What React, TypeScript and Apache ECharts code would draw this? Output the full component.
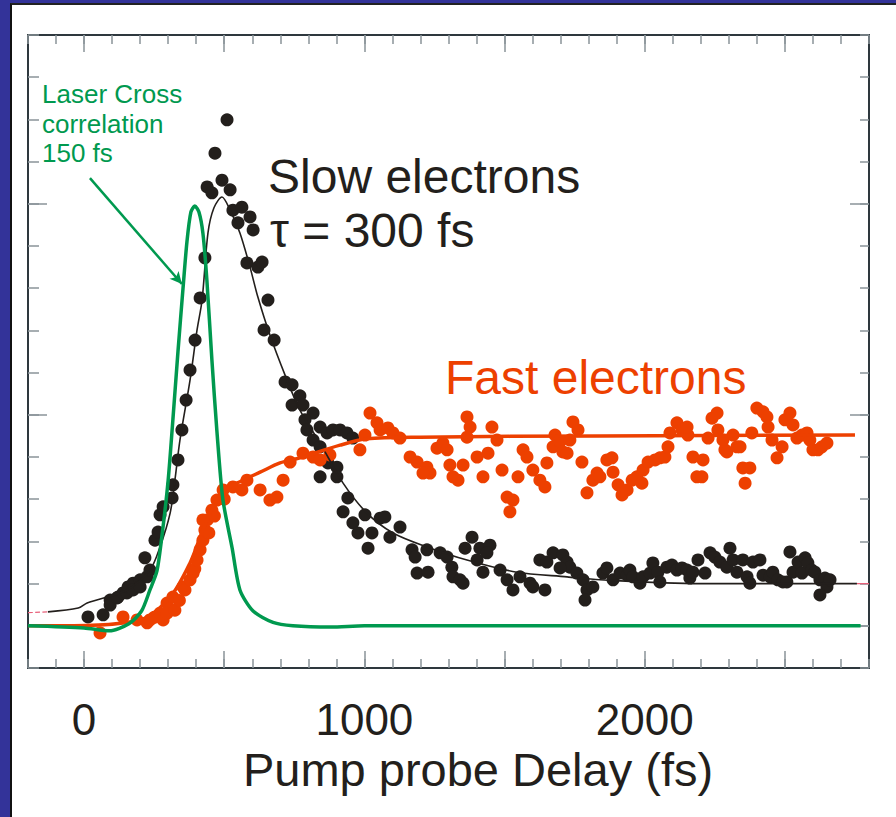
import React, { useEffect, useRef } from 'react';
import * as echarts from 'echarts';

// Axis ranges and ticks (fs on x, arbitrary units on y)
const xMin = -200;
const xMax = 2800;
const yMin = -1;
const yMax = 14;
const xTickLabels = [0, 1000, 2000];
const xMajorTicks = [0, 500, 1000, 1500, 2000, 2500];
const yMajorTicks = [0, 5, 10];

// Laser cross-correlation curve (green)
const laserCurve = [
  [-200, 0], [0, -0.05], [90, -0.12], [160, 0.05], [205, 0.35], [235, 0.85], [260, 1.3],
  [280, 2.25], [300, 3.45], [317, 4.9], [335, 6.5], [353, 8.0], [367, 9.1], [381, 9.8],
  [395, 9.95], [410, 9.8], [424, 9.3], [438, 8.2], [456, 6.3], [474, 4.6], [495, 3.0],
  [528, 1.85], [556, 0.85], [603, 0.35], [674, 0.08], [745, 0], [880, -0.03], [1000, 0], [2770, 0],
];

// Slow electrons fit (black line)
const slowFit = [
  [-129, 0.33], [-21, 0.42], [11, 0.54], [153, 0.85], [235, 1.32], [271, 1.87], [307, 2.67],
  [324, 3.45], [342, 4.4], [378, 5.82], [403, 7.01], [421, 7.72], [442, 9.31], [463, 9.9],
  [492, 10.16], [521, 9.85], [556, 9.31], [592, 8.5], [620, 7.79], [663, 6.89], [717, 5.94],
  [770, 5.11], [842, 4.33], [924, 3.38], [1009, 2.67], [1102, 2.2], [1223, 1.87], [1366, 1.56],
  [1544, 1.27], [1723, 1.16], [1840, 1.09], [2197, 1.0], [2757, 1.0],
];

// Faint pink ends of the slow fit
const slowFitTailLeft = [[-200, 0.31], [-129, 0.33]];
const slowFitTailRight = [[2757, 1.0], [2800, 1.0]];

// Fast electrons fit (orange line)
const fastFit = [
  [-200, 0], [-86, 0], [200, 0.14], [307, 0.68], [378, 1.49], [424, 2.27], [474, 2.98],
  [521, 3.29], [567, 3.45], [628, 3.64], [699, 3.86], [770, 3.98], [913, 4.28], [1009, 4.43],
  [1198, 4.47], [1840, 4.5], [2750, 4.52],
];

// Slow electrons measured points (black dots)
const slowPoints = [
  [14, 0.21], [68, 0.26], [93, 0.61], [93, 0.49], [118, 0.66], [121, 0.68], [139, 0.78],
  [153, 0.78], [157, 0.92], [175, 1.01], [175, 0.85], [200, 1.09], [200, 0.92], [225, 1.16],
  [217, 1.61], [235, 1.32], [253, 2.03], [264, 2.22], [271, 2.63], [282, 2.82], [314, 3.03],
  [317, 3.34], [335, 3.93], [349, 4.64], [364, 5.35], [378, 6.06], [396, 6.77], [414, 7.77],
  [431, 8.72], [510, 11.99], [467, 11.2], [492, 10.56], [439, 10.4], [456, 10.26], [521, 10.33],
  [531, 9.85], [563, 9.92], [549, 9.55], [592, 9.69], [603, 9.38], [581, 8.6], [620, 8.5],
  [635, 8.62], [656, 7.72], [642, 7.01], [678, 6.77], [717, 5.78], [742, 5.71], [770, 5.45],
  [742, 5.23], [781, 5.23], [817, 5.04], [788, 4.88], [795, 4.64], [842, 4.71], [867, 4.57],
  [888, 4.64], [913, 4.64], [938, 4.57], [959, 4.45], [817, 4.4], [842, 4.24], [870, 3.86],
  [902, 3.76], [842, 3.53], [902, 3.53], [941, 3.03], [924, 2.7], [959, 2.44], [1002, 2.63],
  [1056, 2.55], [1073, 2.58], [977, 2.2], [1027, 2.2], [1091, 2.1], [1127, 2.34], [1013, 1.84],
  [1170, 1.8], [1181, 1.63], [1223, 1.8], [1270, 1.73], [1295, 1.63], [1188, 1.25], [1227, 1.27],
  [1312, 1.39], [1316, 1.16], [1341, 1.09], [1352, 1.01], [1384, 2.1], [1359, 1.84], [1412, 1.84],
  [1448, 1.91], [1437, 1.73], [1402, 1.56], [1423, 1.27], [1484, 1.32], [1509, 1.09], [1530, 0.85],
  [1555, 1.16], [1591, 1.01], [1601, 0.92], [1644, 0.85], [1626, 1.56], [1651, 1.51], [1673, 1.73],
  [1708, 1.68], [1723, 1.51], [1733, 1.39], [1698, 1.37], [1758, 1.25], [1780, 1.09], [1794, 0.85],
  [1815, 0.92], [1787, 0.61], [1851, 1.25], [1865, 1.37], [1887, 1.09], [1912, 1.25], [1937, 1.2],
  [1947, 1.32], [1958, 1.16], [1983, 1.01], [1994, 1.16], [2019, 1.25], [2029, 1.49], [2047, 1.27],
  [2054, 1.04], [2079, 1.39], [2097, 1.44], [2115, 1.32], [2133, 1.37], [2151, 1.32], [2161, 1.13],
  [2172, 1.27], [2190, 1.56], [2215, 1.25], [2233, 1.73], [2250, 1.63], [2268, 1.51], [2293, 1.39],
  [2304, 1.84], [2315, 1.56], [2329, 1.27], [2350, 1.56], [2365, 1.16], [2375, 1.01], [2386, 1.51],
  [2411, 1.56], [2422, 1.2], [2447, 1.16], [2457, 1.27], [2475, 1.09], [2493, 1.04], [2507, 1.04],
  [2518, 1.75], [2529, 1.27], [2547, 1.51], [2561, 1.25], [2572, 1.61], [2582, 1.49], [2596, 1.32],
  [2607, 1.27], [2625, 1.09], [2643, 1.13], [2650, 0.92], [2625, 0.73], [2661, 1.09],
];

// Fast electrons measured points (orange dots)
const fastPoints = [
  [57, -0.17], [139, 0.21], [189, 0.14], [225, 0.07], [235, 0.14], [250, 0.2], [271, 0.3], [282, 0.14],
  [296, 0.54], [296, 0.3], [317, 0.68], [324, 0.37], [340, 0.6], [353, 0.92], [360, 0.85], [378, 1.09],
  [389, 1.25], [395, 1.35], [403, 1.56], [414, 1.8], [424, 2.03], [431, 2.27], [439, 2.51], [424, 2.51],
  [445, 2.2], [456, 2.74], [465, 2.6], [474, 2.98], [496, 3.22], [500, 3.0], [531, 3.29], [563, 3.22],
  [581, 3.45], [628, 3.22], [663, 2.98],
  [688, 3.05], [710, 3.45], [735, 3.88], [781, 4.09], [817, 4.0], [842, 3.93], [877, 4.05],
  [984, 4.17], [1002, 4.52], [1020, 5.04], [1045, 4.81], [1056, 4.64], [1084, 4.69], [1102, 4.57],
  [1127, 4.45], [1163, 4.0], [1188, 3.88], [1223, 3.76], [1234, 3.62], [1209, 3.62], [1259, 4.21],
  [1280, 4.33], [1295, 4.17], [1305, 3.81], [1316, 3.53], [1334, 3.45], [1352, 3.81], [1366, 4.95],
  [1377, 4.71], [1366, 4.47], [1402, 4.0], [1423, 3.53], [1441, 4.09], [1455, 4.71], [1473, 4.4],
  [1491, 3.69], [1509, 3.05], [1530, 2.98], [1519, 2.7], [1548, 3.53], [1566, 4.17], [1580, 4.0],
  [1601, 3.69], [1626, 3.45], [1644, 3.29], [1651, 3.86], [1673, 4.24], [1680, 4.52], [1698, 4.36],
  [1708, 4.12], [1723, 4.09], [1733, 4.4], [1744, 4.83], [1762, 4.64], [1776, 3.88], [1794, 3.15],
  [1815, 3.45], [1830, 3.62], [1840, 3.53], [1865, 3.93], [1883, 3.98], [1887, 3.64], [1905, 3.34],
  [1919, 3.1], [1937, 3.22], [1955, 3.45], [1972, 3.53], [1990, 3.38], [1994, 3.69], [2012, 3.88],
  [2037, 3.93], [2054, 3.98], [2072, 4.0], [2083, 4.24], [2090, 4.57], [2115, 4.81], [2133, 4.64],
  [2154, 4.52], [2151, 4.71], [2172, 4.0], [2208, 3.93], [2186, 3.53], [2204, 3.53], [2226, 4.45],
  [2240, 4.92], [2258, 5.04], [2261, 4.64], [2279, 4.4], [2286, 4.17], [2293, 4.12], [2315, 4.52],
  [2329, 4.24], [2340, 4.24], [2350, 3.74], [2375, 3.74], [2358, 3.38], [2382, 4.57], [2400, 5.16],
  [2422, 5.07], [2436, 4.95], [2440, 4.71], [2454, 4.4], [2472, 3.98], [2490, 4.24], [2500, 4.88],
  [2518, 5.04], [2529, 4.76], [2543, 4.45], [2561, 4.52], [2579, 4.57], [2589, 4.4], [2600, 4.17],
  [2618, 4.17], [2632, 4.24], [2650, 4.33],
];

// Annotation arrow (data coordinates)
const arrowFrom = [21, 10.61];
const arrowTo = [349, 8.1];

const BLACK = '#231f1c';
const ORANGE = '#ed4000';
const GREEN = '#00994f';
const AXIS_DARK = '#2e383e';
const TICK_GREY = '#8a9398';
const FONT = '"Liberation Sans", Arial, Helvetica, sans-serif';

export default function App() {
  const ref = useRef<HTMLDivElement>(null);

  useEffect(() => {
    if (!ref.current) return;
    const chart = echarts.init(ref.current, null, { renderer: 'svg' });

    const baseX = (extra: any) => ({
      type: 'value',
      min: xMin,
      max: xMax,
      splitLine: { show: false },
      axisLabel: { show: false },
      ...extra,
    });
    const baseY = (extra: any) => ({
      type: 'value',
      min: yMin,
      max: yMax,
      splitLine: { show: false },
      axisLabel: { show: false },
      ...extra,
    });
    const axisLine = { show: true, onZero: false, lineStyle: { color: AXIS_DARK, width: 2 } };
    const noLine = { show: false, onZero: false };
    const minorTick = { show: true, inside: true, length: 9, lineStyle: { color: TICK_GREY, width: 1.5 } };
    const majorTickX = { show: true, inside: true, length: 17, customValues: xMajorTicks, lineStyle: { color: TICK_GREY, width: 1.5 } };
    const majorTickY = { show: true, inside: true, length: 19, customValues: yMajorTicks, lineStyle: { color: TICK_GREY, width: 1.5 } };

    const txt = (text: string, x: number, y: number, fill: string, fontSize: number, align = 'left', lineHeight?: number) => ({
      type: 'text',
      x,
      y,
      style: {
        text,
        fill,
        fontSize,
        fontFamily: FONT,
        textAlign: align,
        textVerticalAlign: 'middle',
        ...(lineHeight ? { lineHeight } : {}),
      },
    });

    chart.setOption({
      animation: false,
      backgroundColor: 'transparent',
      grid: { left: 28, top: 35, right: 27, bottom: 149, containLabel: false, outerBoundsMode: 'none' },
      xAxis: [
        baseX({ position: 'bottom', interval: 100, axisLine, axisTick: minorTick }),
        baseX({
          position: 'bottom',
          axisLine: noLine,
          axisTick: majorTickX,
          axisLabel: {
            show: true,
            customValues: xTickLabels,
            formatter: (v: number) => String(Math.round(v)),
            fontSize: 44,
            lineHeight: 40,
            fontFamily: FONT,
            color: BLACK,
            margin: 31,
          },
        }),
        baseX({ position: 'top', interval: 100, axisLine, axisTick: minorTick }),
        baseX({ position: 'top', axisLine: noLine, axisTick: majorTickX }),
      ],
      yAxis: [
        baseY({ position: 'left', interval: 1, axisLine, axisTick: { ...minorTick, length: 11 } }),
        baseY({ position: 'left', axisLine: noLine, axisTick: majorTickY }),
        baseY({ position: 'right', interval: 1, axisLine, axisTick: minorTick }),
        baseY({ position: 'right', axisLine: noLine, axisTick: majorTickY }),
      ],
      series: [
        {
          type: 'scatter',
          name: 'Slow electrons data',
          data: slowPoints,
          symbolSize: 13,
          itemStyle: { color: BLACK, opacity: 1 },
          z: 2,
        },
        {
          type: 'scatter',
          name: 'Fast electrons data',
          data: fastPoints,
          symbolSize: 13,
          itemStyle: { color: ORANGE, opacity: 1 },
          z: 3,
        },
        {
          type: 'line',
          name: 'Slow fit',
          data: slowFit,
          showSymbol: false,
          smooth: 0.3,
          lineStyle: { color: BLACK, width: 1.6 },
          z: 4,
        },
        {
          type: 'line',
          name: 'Slow fit tail L',
          data: slowFitTailLeft,
          showSymbol: false,
          lineStyle: { color: '#e8607a', width: 1.2, type: 'dashed' },
          z: 4,
        },
        {
          type: 'line',
          name: 'Slow fit tail R',
          data: slowFitTailRight,
          showSymbol: false,
          lineStyle: { color: '#e8607a', width: 1.2 },
          z: 4,
        },
        {
          type: 'line',
          name: 'Fast fit',
          data: fastFit,
          showSymbol: false,
          smooth: 0.3,
          lineStyle: { color: ORANGE, width: 3.5 },
          z: 5,
        },
        {
          type: 'line',
          name: 'Laser cross correlation',
          data: laserCurve,
          showSymbol: false,
          smooth: 0.25,
          lineStyle: { color: GREEN, width: 3.5 },
          z: 6,
          markLine: {
            silent: true,
            animation: false,
            symbol: ['none', 'arrow'],
            symbolSize: [9, 12],
            label: { show: false },
            lineStyle: { color: GREEN, width: 2.5, type: 'solid' },
            data: [[{ coord: arrowFrom }, { coord: arrowTo }]],
          },
        },
      ],
      graphic: [
        txt('Laser Cross', 42, 94, GREEN, 26),
        txt('correlation', 42, 124, GREEN, 26),
        txt('150 fs', 42, 153, GREEN, 26),
        txt('Slow electrons', 268, 176, BLACK, 48),
        txt('τ = 300 fs', 270, 230, BLACK, 48),
        txt('Fast electrons', 445, 377, ORANGE, 48),
        txt('Pump probe Delay (fs)', 478, 769, BLACK, 47, 'center', 42),
      ],
    });

    return () => {
      chart.dispose();
    };
  }, []);

  return (
    <div style={{ position: 'fixed', left: 0, top: 0, width: 896, height: 817, background: '#333399', overflow: 'hidden' }}>
      <div
        style={{
          position: 'absolute',
          left: 10,
          top: 3,
          width: 886,
          height: 814,
          background: '#ffffff',
          borderLeft: '2px solid #111111',
          borderTop: '2px solid #222222',
          boxSizing: 'border-box',
        }}
      />
      <div ref={ref} style={{ position: 'absolute', left: 0, top: 0, width: 896, height: 817 }} />
    </div>
  );
}
